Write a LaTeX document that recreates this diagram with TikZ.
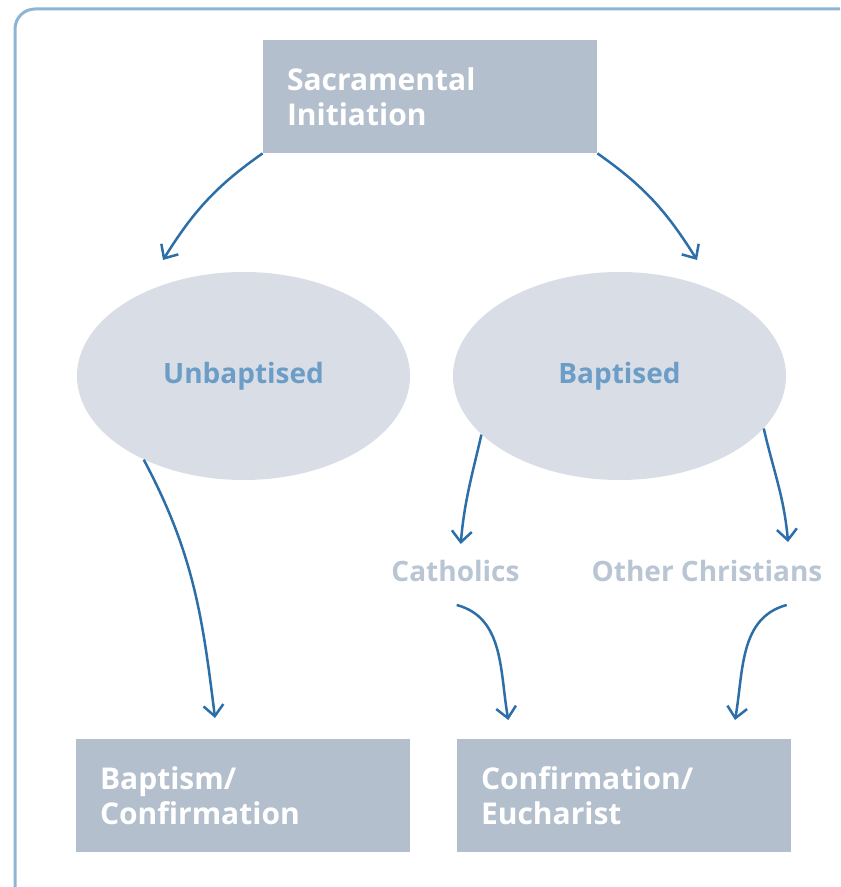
\documentclass[tikz,border=0pt]{standalone}
\usepackage{fontspec}
\setmainfont{Open Sans}
\usetikzlibrary{shapes.geometric,arrows.meta}

% Цвета
\definecolor{framecol}{HTML}{8FB5D4}
\definecolor{boxgray}{HTML}{B3BFCC}
\definecolor{ovalgray}{HTML}{D9DEE6}
\definecolor{ovaltext}{HTML}{6B9DC6}
\definecolor{grouptext}{HTML}{B9C5D2}
\definecolor{arrowblue}{HTML}{2C6FA8}

\begin{document}
\begin{tikzpicture}[
    x=0.5pt, y=0.5pt,
    % Общий шрифт
    every node/.style={font=\fontsize{14}{17.5}\selectfont\bfseries},
    % Серые прямоугольники с белым текстом
    box/.style={fill=boxgray, text=white, align=left, text width=143pt,
        font=\fontsize{15}{17.5}\selectfont\bfseries,
        inner xsep=12pt, inner ysep=0pt, minimum width=167pt, minimum height=56.5pt},
    % Овалы
    oval/.style={ellipse, fill=ovalgray, text=ovaltext, inner sep=0pt,
        minimum width=166.5pt, minimum height=104pt},
    % Подписи групп
    group/.style={text=grouptext, inner sep=0pt, anchor=base},
    % Стрелки
    arr/.style={draw=arrowblue, line width=1.25pt,
        -{Straight Barb[length=5.5pt,width=10pt]}}
]

    \useasboundingbox (0,0) rectangle (840,887);
    \clip (0,0) rectangle (840,887);

    % Рамка
    \draw[framecol, line width=1.5pt, rounded corners=10pt]
        (15,-30) rectangle (870,878);

    % Верхний блок
    \node[box] (init) at (430,790.5) {Sacramental\\Initiation};

    % Овалы
    \node[oval] (unbap) at (243.5,511) {Unbaptised};
    \node[oval] (bap)   at (619.5,511) {Baptised};

    % Группы крещёных
    \node[group] (cath) at (455.5,305) {Catholics};
    \node[group] (oth)  at (707,305)   {Other Christians};

    % Нижние блоки
    \node[box] (bapconf)   at (243,91.5) {Baptism/\\Confirmation};
    \node[box] (confeuch)  at (624,91.5) {Confirmation/\\Eucharist};

    % Концы стрелок
    \coordinate (tipA) at (163,627);
    \coordinate (tipB) at (697,627);
    \coordinate (tipC) at (215,169);
    \coordinate (tipD) at (460.7,343);
    \coordinate (tipE) at (788,345);
    \coordinate (cathout) at (456.7,282);
    \coordinate (othout)  at (786.7,282);
    \coordinate (tipF) at (508.3,167);
    \coordinate (tipG) at (735,167);

    % Стрелки
    \draw[arr] (init.south west) to[out=215, in=58] (tipA);
    \draw[arr] (init.south east) to[out=-35, in=122] (tipB);
    \draw[arr] (unbap.220) to[out=-62, in=97] (tipC);
    \draw[arr] (bap.203) to[out=257, in=85] (tipD);
    \draw[arr] (bap.-20) to[out=-77, in=95] (tipE);
    \draw[arr] (cathout) to[out=-15, in=100] (tipF);
    \draw[arr] (othout) to[out=195, in=80] (tipG);

\end{tikzpicture}
\end{document}
